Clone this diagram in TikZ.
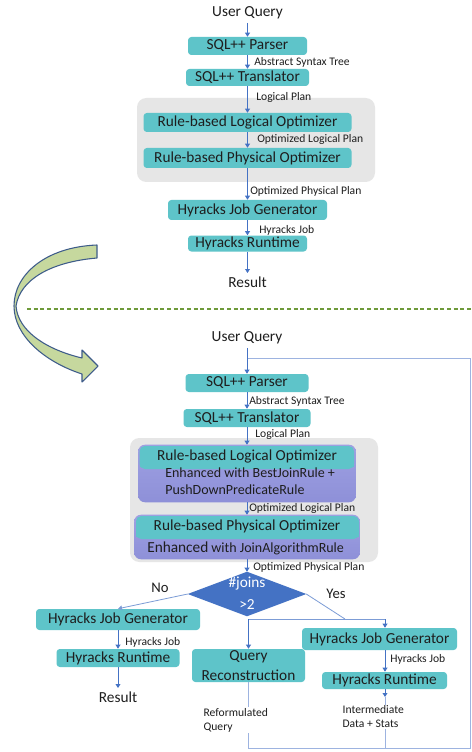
\documentclass[tikz,border=0pt]{standalone}
\usepackage{fontspec}
\setmainfont{Carlito}
\usetikzlibrary{arrows.meta}
\definecolor{teal1}{HTML}{5EC4C9}
\definecolor{grayb}{HTML}{E6E6E6}
\definecolor{lineb}{HTML}{4472C4}
\definecolor{fbline}{HTML}{9DB3E0}
\definecolor{purpT}{HTML}{9EA0E2}
\definecolor{purpB}{HTML}{8E90D8}
\definecolor{diablue}{HTML}{4472C4}
\definecolor{dashg}{HTML}{6E9A3A}
\definecolor{arrfill}{HTML}{C6D89E}
\definecolor{arrline}{HTML}{3E5C8A}
\definecolor{txt}{HTML}{1E1E1E}
\begin{document}
\begin{tikzpicture}[x=0.75pt,y=-0.75pt,
  every node/.style={text=txt},
  tbox/.style={fill=teal1, rounded corners=2.5pt, inner sep=0pt, font=\fontsize{11.5}{13}\selectfont},
  lbl/.style={anchor=west, inner sep=0pt, font=\fontsize{8.7}{10}\selectfont},
  big/.style={inner sep=2.5pt, font=\fontsize{11.5}{13}\selectfont},
  grp/.style={fill=grayb, rounded corners=7pt, inner sep=0pt},
  arr/.style={draw=lineb, line width=0.6pt, -{Triangle[width=3.6pt,length=3pt]}},
  ln/.style={draw=lineb!70, line width=0.6pt},
  fb/.style={draw=fbline, line width=0.7pt}]
\fill[white] (0,0) rectangle (471,752);
\useasboundingbox (0,0) rectangle (471,752);

% ---------------- top section ----------------
\node[grp, minimum width=178.5pt, minimum height=63pt] (grp1) at (256,140) {};
\node[big] (uq1) at (247.5,13) {User Query};
\node[tbox, minimum width=89.25pt, minimum height=13.5pt] (p1) at (247.5,46) {SQL++ Parser};
\node[tbox, minimum width=92.25pt, minimum height=12.75pt] (t1) at (247.5,77.5) {SQL++ Translator};
\node[tbox, minimum width=156pt, minimum height=14.25pt] (lo1) at (247.5,122.5) {Rule-based Logical Optimizer};
\node[tbox, minimum width=156pt, minimum height=15pt] (po1) at (247.5,158) {Rule-based Physical Optimizer};
\node[tbox, minimum width=119.25pt, minimum height=15pt] (hg1) at (247.5,210) {Hyracks Job Generator};
\node[tbox, minimum width=89.25pt, minimum height=12pt] (hr1) at (247.5,243.5) {Hyracks Runtime};
\node[big] (res1) at (247.5,282) {Result};

\draw[arr] (uq1.south) -- (p1.north);
\draw[arr] (p1.south) -- (t1.north);
\draw[arr] (t1.south) -- (lo1.north);
\draw[arr] (lo1.south) -- (po1.north);
\draw[arr] (po1.south) -- (hg1.north);
\draw[arr] (hg1.south) -- (hr1.north);
\draw[arr] (hr1.south) -- (res1.north);

\node[lbl] (l1) at (254,62) {Abstract Syntax Tree};
\node[lbl] (l2) at (256,97) {Logical Plan};
\node[lbl] (l3) at (257,139) {Optimized Logical Plan};
\node[lbl] (l4) at (250,191) {Optimized Physical Plan};
\node[lbl] (l5) at (259,230) {Hyracks Job};

% ---------------- curved arrow + divider ----------------
\draw[fill=arrfill, draw=arrline, line width=0.8pt, line join=round]
  (97,245) .. controls (45,247) and (14,275) .. (14,306)
  .. controls (14,336) and (45,362) .. (82,374)
  -- (82,382) -- (98,366) -- (82,350) -- (82,358)
  .. controls (48,350) and (18,332) .. (16,306)
  .. controls (20,280) and (50,262) .. (97,258) -- cycle;
\draw[dashg, line width=1.1pt, dash pattern=on 3pt off 2pt] (27,309) -- (471,309);

% ---------------- bottom section ----------------
\node[grp, minimum width=186pt, minimum height=93pt] (grp2) at (254,500) {};
\node[big] (uq2) at (247,338) {User Query};
\node[tbox, minimum width=92.25pt, minimum height=13.5pt] (p2) at (247,383) {SQL++ Parser};
\node[tbox, minimum width=95.25pt, minimum height=13.5pt] (t2) at (247,418) {SQL++ Translator};

% logical optimizer (two-tone)
\node[minimum width=162.75pt, minimum height=42.75pt, inner sep=0pt] (lo2) at (247,473.5) {};
\begin{scope}
\clip[rounded corners=5pt] (lo2.north west) rectangle (lo2.south east);
\shade[top color=purpT, bottom color=purpB] (lo2.north west) rectangle (lo2.south east);
\fill[teal1, rounded corners=4pt] (139.5,446) rectangle (354,469);
\fill[teal1] (139.5,458) rectangle (354,467);
\end{scope}
\node[big] (lo2t) at (247,456) {Rule-based Logical Optimizer};
\node[anchor=west, align=left, inner sep=0pt, font=\fontsize{10.5}{12.75}\selectfont] (lo2e) at (165,481.5) {Enhanced with BestJoinRule +\\PushDownPredicateRule};

% physical optimizer (two-tone)
\node[minimum width=168.75pt, minimum height=33pt, inner sep=0pt] (po2) at (247,537) {};
\begin{scope}
\clip[rounded corners=5pt] (po2.north west) rectangle (po2.south east);
\shade[top color=purpT, bottom color=purpB] (po2.north west) rectangle (po2.south east);
\fill[teal1, rounded corners=4pt] (136,516) rectangle (359,539);
\fill[teal1] (136,528) rectangle (359,537);
\end{scope}
\node[big] (po2t) at (247,526.5) {Rule-based Physical Optimizer};
\node[anchor=west, inner sep=0pt] (po2e) at (147,548) {{\fontsize{11.5}{13}\selectfont Enhanced} {\fontsize{10.5}{13}\selectfont with JoinAlgorithmRule}};

% decision
\node[minimum width=88.5pt, minimum height=33pt, inner sep=0pt] (dia) at (247,594) {};
\fill[diablue] (dia.north) -- (dia.east) -- (dia.south) -- (dia.west) -- cycle;
\node[inner sep=0pt, text=white, font=\fontsize{11.5}{13}\selectfont] (dj1) at (247,584) {\#joins};
\node[inner sep=0pt, text=white, font=\fontsize{11.5}{13}\selectfont] (dj2) at (247,605) {>2};
\node[inner sep=0pt, font=\fontsize{11}{13}\selectfont] (no) at (160,588) {No};
\node[inner sep=0pt, font=\fontsize{11}{13}\selectfont] (yes) at (336,594) {Yes};

% left branch
\node[tbox, minimum width=123pt, minimum height=15.75pt] (hgL) at (118,619.5) {Hyracks Job Generator};
\node[tbox, minimum width=92.25pt, minimum height=13.5pt] (hrL) at (118,658) {Hyracks Runtime};
\node[big] (resL) at (118,697) {Result};

% right branch
\node[tbox, minimum width=116.25pt, minimum height=16.5pt] (hgR) at (379.5,639) {Hyracks Job Generator};
\node[tbox, minimum width=93.75pt, minimum height=12.75pt] (hrR) at (384.5,680.5) {Hyracks Runtime};
\node[tbox, align=center, minimum width=84.75pt, minimum height=24.75pt, font=\fontsize{11.5}{14.5}\selectfont] (qr) at (248.5,665.5) {Query\\Reconstruction};

% connectors bottom
\coordinate (tL) at (247,358);
\coordinate (tRR) at (470.5,358);
\coordinate (bRR) at (470.5,748);
\coordinate (yj) at (345,619);
\coordinate (jL) at (248.5,619);
\coordinate (jR) at (385,619);
\coordinate (iR) at (385,697);
\coordinate (bR) at (385,748);
\coordinate (bL) at (248.5,748);

\draw[fb] (qr.south) -- (bL) -- (bRR) -- (tRR) -- (tL);
\draw[fb] (iR) -- (bR);

\draw[arr] (uq2.south) -- (p2.north);
\draw[arr] (p2.south) -- (t2.north);
\draw[arr] (t2.south) -- (lo2.north);
\draw[arr] (lo2.south) -- (po2.north);
\draw[arr] (po2.south) -- (dia.north);
\draw[arr, draw=lineb!70] (dia.west) -- (hgL.north);
\draw[arr] (hgL.south) -- (hrL.north);
\draw[arr] (hrL.south) -- (resL.north);
\draw[ln] (dia.east) -- (yj);
\draw[ln] (jL) -- (jR);
\draw[arr] (jL) -- (qr.north);
\draw[arr] (jR) -- (jR |- hgR.north);
\draw[arr] (hgR.south -| jR) -- (hrR.north -| jR);
\draw[arr] (hrR.south -| jR) -- (iR);

\node[lbl] (m1) at (249,401) {Abstract Syntax Tree};
\node[lbl] (m2) at (255,434) {Logical Plan};
\node[lbl] (m3) at (249,508) {Optimized Logical Plan};
\node[lbl] (m4) at (253,567) {Optimized Physical Plan};
\node[lbl] (m5) at (125,642) {Hyracks Job};
\node[lbl] (m6) at (390,659) {Hyracks Job};
\node[lbl, align=left, fill=white, inner sep=1pt, font=\fontsize{8.7}{10.5}\selectfont] (rq) at (202,720) {Reformulated\\Query};
\node[lbl, align=left, fill=white, inner sep=1pt, font=\fontsize{8.7}{10.5}\selectfont] (ids) at (341,717) {Intermediate\\Data + Stats};
\end{tikzpicture}
\end{document}
